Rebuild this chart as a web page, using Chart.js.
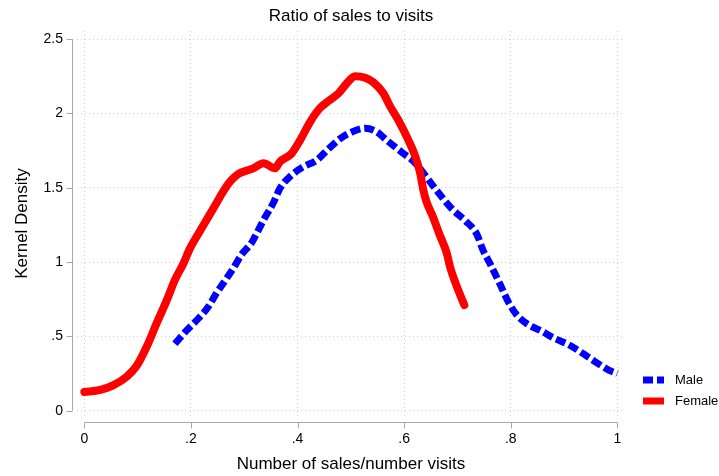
<!DOCTYPE html>
<html lang="en">
<head>
<meta charset="UTF-8">
<title>Ratio of sales to visits</title>
<style>
html,body {margin:0; padding:0; background:#fff;}
#wrap {width:719px; height:476px; position:relative;}
</style>
</head>
<body>
<div id="wrap"><canvas id="chart" width="719" height="476"></canvas></div>
<script src="https://cdn.jsdelivr.net/npm/chart.js"></script>
<script>
// values
const maleX = [0.17,0.192,0.214,0.233,0.248,0.267,0.28,0.295,0.314,0.323,0.339,0.355,0.367,0.389,0.411,0.436,0.455,0.48,0.502,0.527,0.549,0.567,0.595,0.62,0.636,0.657,0.689,0.714,0.736,0.748,0.761,0.78,0.795,0.811,0.83,0.858,0.88,0.908,0.933,0.958,0.983,1.0];
const maleY = [0.45,0.54,0.62,0.70,0.79,0.89,0.96,1.05,1.13,1.19,1.30,1.40,1.495,1.585,1.64,1.685,1.75,1.83,1.875,1.90,1.875,1.82,1.74,1.67,1.60,1.50,1.36,1.28,1.19,1.08,0.99,0.85,0.735,0.645,0.585,0.535,0.49,0.445,0.39,0.33,0.275,0.25];
const femaleX = [0,0.03,0.054,0.08,0.098,0.117,0.136,0.155,0.17,0.186,0.198,0.214,0.233,0.255,0.265,0.277,0.29,0.305,0.317,0.336,0.358,0.367,0.389,0.405,0.424,0.442,0.461,0.477,0.492,0.508,0.527,0.542,0.561,0.574,0.589,0.608,0.621,0.63,0.636,0.642,0.654,0.667,0.68,0.686,0.699,0.713];
const femaleY = [0.125,0.14,0.17,0.23,0.30,0.43,0.59,0.745,0.88,0.99,1.09,1.19,1.305,1.44,1.50,1.555,1.595,1.615,1.63,1.665,1.63,1.675,1.73,1.82,1.945,2.035,2.09,2.135,2.20,2.25,2.24,2.21,2.135,2.045,1.955,1.82,1.71,1.60,1.485,1.405,1.305,1.18,1.06,0.97,0.834,0.71];
const xTicks = [0,0.2,0.4,0.6,0.8,1];
const xTickLabels = ['0','.2','.4','.6','.8','1'];
const yTicks = [0,0.5,1,1.5,2,2.5];
const yTickLabels = ['0','.5','1','1.5','2','2.5'];
const seriesNames = ['Male','Female'];

const FONT = "'Liberation Sans', Arial, Helvetica, sans-serif";
const toPts = (xs, ys) => xs.map((x, i) => ({x: x, y: ys[i]}));

// Stata-like offset axes, title and legend
const decor = {
  id: 'decor',
  afterDraw(chart) {
    const ctx = chart.ctx, a = chart.chartArea;
    const xs = chart.scales.x, ys = chart.scales.y;
    ctx.save();
    ctx.strokeStyle = '#a8a8a8';
    ctx.lineWidth = 1;
    ctx.setLineDash([]);
    // y axis
    const ax = a.left - 4.5;
    ctx.beginPath();
    ctx.moveTo(ax, ys.getPixelForValue(yTicks[0]));
    ctx.lineTo(ax, ys.getPixelForValue(yTicks[yTicks.length - 1]));
    yTicks.forEach(v => { const p = Math.round(ys.getPixelForValue(v)) + 0.5; ctx.moveTo(ax, p); ctx.lineTo(ax - 6, p); });
    ctx.stroke();
    // x axis
    const ay = a.bottom + 6.5;
    ctx.beginPath();
    ctx.moveTo(xs.getPixelForValue(xTicks[0]), ay);
    ctx.lineTo(xs.getPixelForValue(xTicks[xTicks.length - 1]), ay);
    xTicks.forEach(v => { const p = Math.round(xs.getPixelForValue(v)) + 0.5; ctx.moveTo(p, ay); ctx.lineTo(p, ay + 6); });
    ctx.stroke();
    // title
    ctx.fillStyle = '#000';
    ctx.font = '17px ' + FONT;
    ctx.textAlign = 'center';
    ctx.textBaseline = 'middle';
    ctx.fillText('Ratio of sales to visits', (a.left + a.right) / 2, 16);
    // legend
    ctx.font = '13px ' + FONT;
    ctx.textAlign = 'left';
    const lx = 643, rows = [380, 401];
    [1, 0].forEach((di, i) => {
      const ds = chart.data.datasets[di];
      ctx.strokeStyle = ds.borderColor;
      ctx.lineWidth = 7;
      ctx.lineCap = 'butt';
      ctx.setLineDash(ds.borderDash || []);
      ctx.beginPath();
      ctx.moveTo(lx, rows[i]);
      ctx.lineTo(lx + 21, rows[i]);
      ctx.stroke();
      ctx.setLineDash([]);
      ctx.fillStyle = '#000';
      ctx.fillText(ds.label, lx + 32, rows[i]);
    });
    ctx.restore();
  }
};

new Chart(document.getElementById('chart'), {
  type: 'line',
  data: {
    datasets: [
      {label: seriesNames[1], data: toPts(femaleX, femaleY), borderColor: '#ff0000', borderWidth: 8,
       borderCapStyle: 'round', borderJoinStyle: 'round', pointRadius: 0, cubicInterpolationMode: 'monotone', fill: false},
      {label: seriesNames[0], data: toPts(maleX, maleY), borderColor: '#0000ff', borderWidth: 7,
       borderDash: [10, 4], borderCapStyle: 'butt', pointRadius: 0, cubicInterpolationMode: 'monotone', fill: false}
    ]
  },
  options: {
    responsive: false,
    animation: false,
    devicePixelRatio: 1,
    layout: {padding: {top: 31, right: 94, left: 0, bottom: 0}},
    plugins: {legend: {display: false}, title: {display: false}, tooltip: {enabled: false}},
    scales: {
      x: {
        type: 'linear', min: -0.0137, max: 1.0144,
        afterBuildTicks: s => { s.ticks = xTicks.map(v => ({value: v})); },
        afterFit: s => { s.height = 60; },
        grid: {color: '#cfcfcf', drawTicks: false},
        border: {display: false, dash: [1, 3]},
        ticks: {padding: 15, color: '#000', font: {family: FONT, size: 14},
                callback: (v) => xTickLabels[xTicks.indexOf(v)]},
        title: {display: true, text: 'Number of sales/number visits', color: '#000',
                font: {family: FONT, size: 17}, padding: {top: 0, bottom: 1}}
      },
      y: {
        type: 'linear', min: -0.036, max: 2.554,
        afterBuildTicks: s => { s.ticks = yTicks.map(v => ({value: v})); },
        afterFit: s => { s.width = 77; },
        grid: {color: '#cfcfcf', drawTicks: false},
        border: {display: false, dash: [1, 3]},
        ticks: {padding: 14, color: '#000', font: {family: FONT, size: 14},
                callback: (v) => yTickLabels[yTicks.indexOf(v)]},
        title: {display: true, text: 'Kernel Density', color: '#000',
                font: {family: FONT, size: 17}, padding: {top: 12, bottom: 0}}
      }
    }
  },
  plugins: [decor]
});
</script>
</body>
</html>
